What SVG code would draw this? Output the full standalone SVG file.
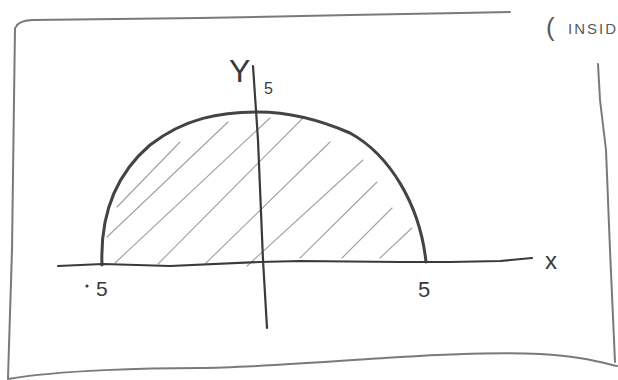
<svg xmlns="http://www.w3.org/2000/svg" width="618" height="380" viewBox="0 0 618 380">
<style>
.frame{fill:none;stroke:#7a7a7a;stroke-width:2;stroke-linecap:round;stroke-linejoin:round}
.axis{fill:none;stroke:#3a3a3a;stroke-width:2.2;stroke-linecap:round;stroke-linejoin:round}
.arc{fill:none;stroke:#444;stroke-width:3;stroke-linecap:round}
.hatch{stroke:#a0a0a0;stroke-width:1.1;stroke-linecap:round}
.lbl{font-family:"Liberation Sans","DejaVu Sans",sans-serif;fill:#3a3a3a}
.note{font-family:"Liberation Sans","DejaVu Sans",sans-serif;fill:#5a5a5a}
</style>
<rect width="618" height="380" fill="#ffffff"/>
<g id="frame">
<path class="frame" d="M16,27 Q18,21 32,20 L200,18 L350,15 L460,13 L510,12"/>
<path class="frame" d="M15,28 L14,100 L12,250 L8,378"/>
<path class="frame" d="M8,379 C60,370 150,368 200,368 S350,360 400,357 S500,352 540,354 S600,362 617,366"/>
<path class="frame" d="M598,64 L600,100 L606,150 L610,250 L615,362"/>
</g>
<g id="note">
<text class="note" x="546" y="36" font-size="26">(</text>
<text class="note" x="568" y="34" font-size="15" letter-spacing="2">INSID</text>
</g>
<g id="hatching">
<line class="hatch" x1="117" y1="207" x2="180" y2="142"/>
<line class="hatch" x1="107" y1="237" x2="228" y2="122"/>
<line class="hatch" x1="115" y1="263" x2="270" y2="118"/>
<line class="hatch" x1="158" y1="264" x2="303" y2="118"/>
<line class="hatch" x1="205" y1="264" x2="330" y2="142"/>
<line class="hatch" x1="247" y1="266" x2="363" y2="160"/>
<line class="hatch" x1="300" y1="258" x2="377" y2="182"/>
<line class="hatch" x1="342" y1="258" x2="392" y2="208"/>
<line class="hatch" x1="380" y1="258" x2="412" y2="228"/>
</g>
<g id="semicircle">
<path class="arc" d="M102,265 C100,215 115,175 150,145 C185,118 220,112 258,112 C290,112 320,120 350,133 C390,155 420,205 426,262"/>
</g>
<g id="axes">
<path class="axis" d="M58,266 L103,264 L170,266 L260,262 L300,261 L400,262 L450,262 L500,261 L532,258"/>
<path class="axis" d="M253,66 L258,140 L263,260 L267,328"/>
</g>
<g id="labels">
<text class="lbl" x="229" y="82" font-size="32">Y</text>
<text class="lbl" x="264" y="94" font-size="16">5</text>
<text class="lbl" x="545" y="269" font-size="24">x</text>
<circle cx="87" cy="286" r="1.6" fill="#3a3a3a"/>
<text class="lbl" x="96" y="296" font-size="21">5</text>
<text class="lbl" x="418" y="297" font-size="22">5</text>
</g>
</svg>
